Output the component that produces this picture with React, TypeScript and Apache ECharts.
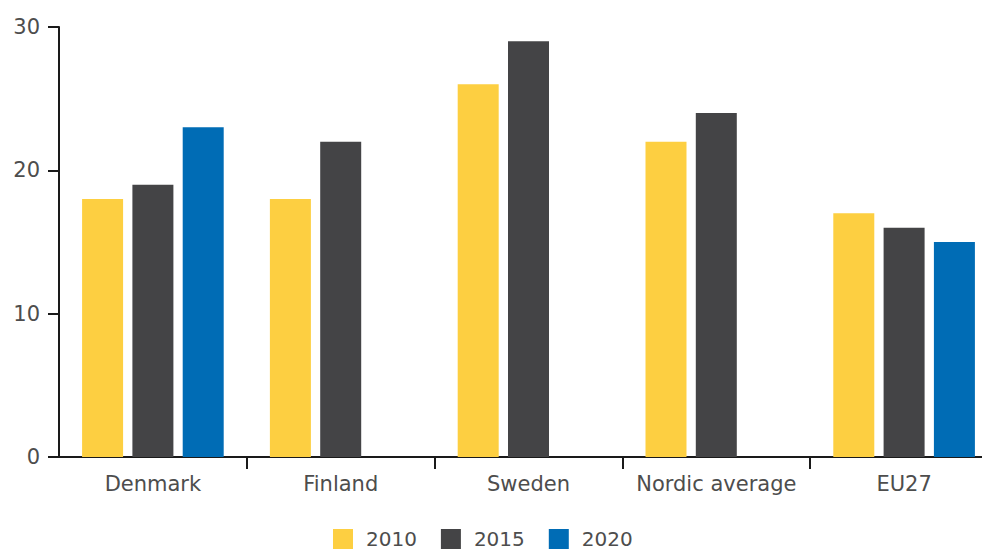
import React, { useEffect, useRef } from "react";
import * as echarts from "echarts";

const categories = ["Denmark", "Finland", "Sweden", "Nordic average", "EU27"];
const seriesNames = ["2010", "2015", "2020"];
const values2010 = [18, 18, 26, 22, 17];
const values2015 = [19, 22, 29, 24, 16];
const values2020: (number | null)[] = [23, null, null, null, 15];
const colors = ["#FDCF41", "#444446", "#006CB5"];
const yTicks = { min: 0, max: 30, interval: 10 };

const FONT = "DejaVu Sans";

export default function App() {
  const ref = useRef<HTMLDivElement>(null);
  useEffect(() => {
    if (!ref.current) return;
    const chart = echarts.init(ref.current, undefined, { renderer: "svg" });
    const data = [values2010, values2015, values2020];
    chart.setOption({
      animation: false,
      textStyle: { fontFamily: FONT },
      grid: { left: 59, top: 27, width: 939, bottom: 556 - 457 },
      legend: {
        top: 529,
        left: 333,
        padding: 0,
        icon: "rect",
        itemWidth: 20,
        itemHeight: 20,
        itemGap: 24,
        textStyle: { fontFamily: FONT, fontSize: 20, color: "#4d4d4d", padding: [0, 0, 0, 8] },
        data: seriesNames,
      },
      xAxis: {
        type: "category",
        data: categories,
        axisLine: { lineStyle: { color: "#1a1a1a", width: 2 } },
        axisTick: {
          show: true,
          length: 12,
          lineStyle: { color: "#1a1a1a", width: 2 },
          interval: (index: number) => index !== 0,
        },
        axisLabel: { interval: 0, fontFamily: FONT, fontSize: 21, color: "#4d4d4d", margin: 16 },
      },
      yAxis: {
        type: "value",
        min: yTicks.min,
        max: yTicks.max,
        interval: yTicks.interval,
        splitLine: { show: false },
        axisLine: { show: true, lineStyle: { color: "#1a1a1a", width: 2 } },
        axisTick: { show: true, length: 11, lineStyle: { color: "#1a1a1a", width: 2 } },
        axisLabel: { fontFamily: FONT, fontSize: 21, color: "#4d4d4d", margin: 19 },
      },
      series: seriesNames.map((name, i) => ({
        name,
        type: "bar",
        data: data[i],
        barWidth: 41,
        barGap: "22.7%",
        itemStyle: { color: colors[i] },
      })),
    });
    return () => chart.dispose();
  }, []);
  return (
    <div style={{ width: 982, height: 556, position: "absolute", left: 0, top: 0, overflow: "hidden" }}>
      <div ref={ref} style={{ width: 1010, height: 556 }} />
    </div>
  );
}
